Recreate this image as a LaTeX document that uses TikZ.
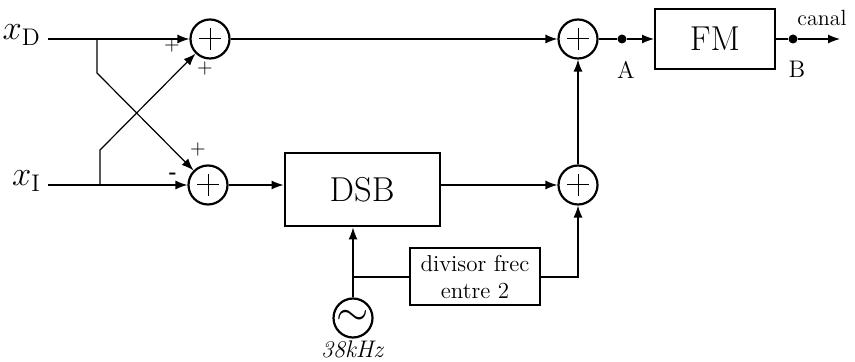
\documentclass[tikz,border=0pt]{standalone}
\usetikzlibrary{arrows.meta}
\usetikzlibrary{calc,positioning}
\tikzset{
 sum/.style={draw, circle, line width=1.1pt, minimum size=19.5pt, inner sep=0pt,
  path picture={\draw[line width=0.5pt] ($(path picture bounding box.center)+(-5.5pt,0)$)--++(11pt,0)
   ($(path picture bounding box.center)+(0,-5.5pt)$)--++(0,11pt);}},
 blk/.style={draw, line width=1pt, inner sep=0pt, align=center},
 dot/.style={circle, fill, inner sep=0pt, minimum size=4.5pt},
 sgn/.style={font=\normalsize, inner sep=0pt}
}
\begin{document}
\begin{tikzpicture}[x=0.5pt, y=-0.5pt, line width=0.6pt, >={Latex[length=6pt,width=4.5pt]}]
\useasboundingbox (0,0) rectangle (855,362);
% sumadores y bloques
\node[sum] (s1) at (210,39) {};
\node[sum] (s2) at (208,185) {};
\node[sum] (s3) at (578,39) {};
\node[sum] (s4) at (578,185) {};
\node[blk, minimum width=77.5pt, minimum height=36.5pt] (dsb) at (362,190) {\LARGE DSB};
\node[blk, minimum width=60pt, minimum height=30pt] (fm) at (715,39) {\LARGE FM};
\node[blk, minimum width=65pt, minimum height=28.5pt, font=\fontsize{11.5}{13.5}\selectfont] (div) at (475,277) {divisor frec\\entre 2};
\node[draw, circle, line width=1.1pt, minimum size=19.5pt, inner sep=0pt] (osc) at (353,318) {\huge$\sim$};
\node[font=\fontsize{12}{14}\selectfont\itshape] (f0) at (352,349) {38kHz};
% entradas
\coordinate (d0) at (48,39);
\coordinate (i0) at (48,185);
\node[left=0pt of d0, yshift=2pt] (xd) {\LARGE$x_{\mathrm{D}}$};
\node[left=0pt of i0, yshift=2pt] (xi) {\LARGE$x_{\mathrm{I}}$};
\coordinate (bd) at (97,39);
\coordinate (bd2) at (97,73);
\coordinate (bi) at (100,185);
\coordinate (bi2) at (100,150);
\draw[->] (d0) -- (s1);
\draw[->] (i0) -- (s2);
\draw[->] (bd) -- (bd2) -- (s2);
\draw[->] (bi) -- (bi2) -- (s1);
\node[sgn] at (172,46) {$+$};
\node[sgn] at (205,69) {$+$};
\node[sgn] at (198,150) {$+$};
\node[sgn] at (173,176) {\textbf{-}};
% rama superior
\node[dot] (a) at (622,39) {};
\node[dot] (b) at (793,39) {};
\coordinate (out) at (840,39);
\draw[->] (s1) -- (s3);
\draw (s3) -- (a);
\draw[->] (a) -- (fm);
\draw (fm) -- (b);
\draw[->] (b) -- (out);
\node[below=5pt of a, xshift=2pt, font=\fontsize{12}{14}\selectfont] (la) {A};
\node[below=5pt of b, xshift=2pt, font=\fontsize{12}{14}\selectfont] (lb) {B};
\node[font=\fontsize{11}{13}\selectfont] (lc) at (822,18) {canal};
% rama inferior
\draw[->] (s2) -- (s2 -| dsb.west);
\draw[->] (dsb.east |- s4) -- (s4);
\draw[->] (s4) -- (s3);
\coordinate (ob) at (osc |- div.west);
\draw[->] (osc) -- (osc |- dsb.south);
\draw (ob) -- (div);
\draw[->] (div) -| (s4);
\end{tikzpicture}
\end{document}
